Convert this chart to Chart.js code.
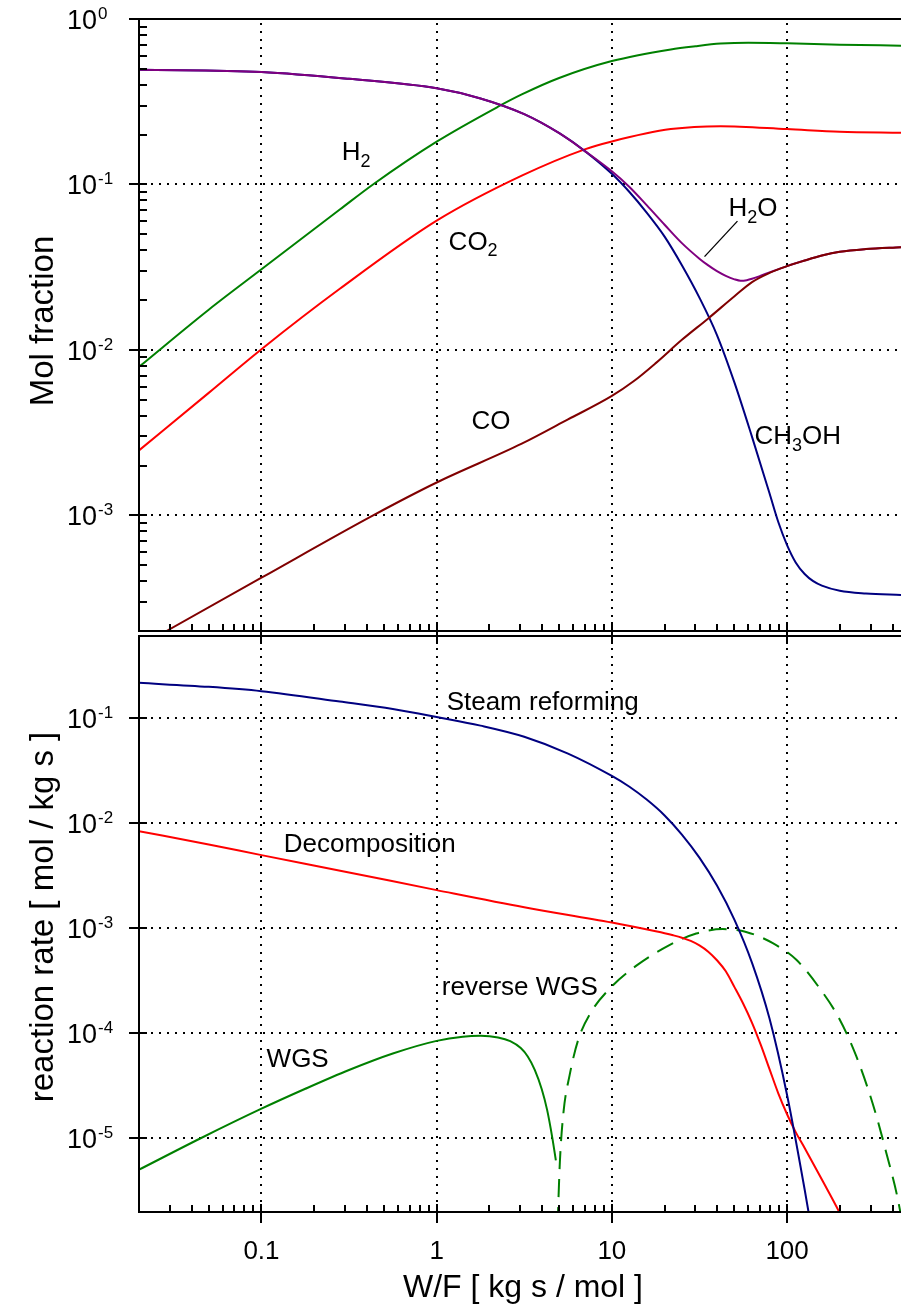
<!DOCTYPE html>
<html>
<head>
<meta charset="utf-8">
<script src="https://cdn.jsdelivr.net/npm/chart.js@4.4.0/dist/chart.umd.min.js"></script>
<style>
  body { margin: 0; background: #fff; }
  #wrap { position: relative; width: 901px; height: 1306px; overflow: hidden; }
  canvas { position: absolute; left: 0; }
</style>
</head>
<body>
<div id="wrap">
  <canvas id="molChart" width="901" height="640" style="top:0"></canvas>
  <canvas id="rateChart" width="901" height="680" style="top:626px"></canvas>
</div>
<script>
// W/F axis (shared by both panels)
var wfMin = 0.02, wfMax = 447;
var xMajors = [0.1, 1, 10, 100];
var xMajorLabels = ['0.1', '1', '10', '100'];

// upper panel: mol fractions
var molDecades = [0, -1, -2, -3];
var h2W  = [0.02, 0.05, 0.1, 0.28, 0.433, 1, 2.24, 3.06, 5, 10, 21.7, 30, 41.8, 60, 100, 200, 447];
var h2Y  = [0.0079, 0.0175, 0.0307, 0.0705, 0.1, 0.1815, 0.295, 0.35, 0.44, 0.557, 0.655, 0.685, 0.71, 0.719, 0.713, 0.70, 0.69];
var co2W = [0.02, 0.05, 0.1, 0.28, 1, 3.06, 7, 10, 21.7, 41.8, 100, 200, 447];
var co2Y = [0.00247, 0.0055, 0.0101, 0.0234, 0.0604, 0.113, 0.163, 0.182, 0.216, 0.225, 0.216, 0.208, 0.205];
var meohW = [0.02, 0.1, 0.316, 1, 1.78, 3.16, 5.01, 7.08, 10, 12.6, 15.8, 20, 25.1, 31.6, 39.8, 50.1, 63.1, 79.4, 89.1, 100, 112, 126, 141, 158, 200, 282, 447];
var meohY = [0.494, 0.479, 0.435, 0.381, 0.331, 0.266, 0.204, 0.158, 0.116, 0.090, 0.0676, 0.0484, 0.0325, 0.0207, 0.0123, 0.00634, 0.00298, 0.00136, 0.000912, 0.000661, 0.000519, 0.000442, 0.0004, 0.000376, 0.00035, 0.000337, 0.00033];
var h2oW = [0.02, 0.1, 0.316, 1, 1.78, 3.16, 5.01, 7.08, 10, 12.6, 15.8, 20, 25.1, 31.6, 35.5, 39.8, 44.7, 50.1, 54.3, 58.9, 63.1, 70.8, 79.4, 100, 126, 158, 200, 282, 447];
var h2oY = [0.494, 0.479, 0.435, 0.381, 0.331, 0.266, 0.204, 0.158, 0.120, 0.0966, 0.075, 0.0571, 0.0442, 0.0356, 0.0324, 0.0299, 0.028, 0.0267, 0.0262, 0.0264, 0.0269, 0.0281, 0.0294, 0.0321, 0.0347, 0.0372, 0.0392, 0.0407, 0.0418];
var coW  = [0.02, 0.0287, 0.1, 0.434, 1, 3.06, 5.62, 10, 13.3, 17.8, 25.1, 35.5, 50.1, 63.1, 79.4, 100, 126, 158, 200, 282, 447];
var coY  = [0.000161, 0.0002, 0.00042, 0.001, 0.00158, 0.00271, 0.0038, 0.00527, 0.00646, 0.00832, 0.0115, 0.0155, 0.0211, 0.0257, 0.0292, 0.0321, 0.0347, 0.0372, 0.0392, 0.0407, 0.0418];

// lower panel: reaction rates
var rateDecades = [-1, -2, -3, -4, -5];
var srW  = [0.02, 0.05, 0.1, 0.28, 0.562, 1, 1.78, 3.16, 5.62, 10, 12.6, 15.8, 20, 25.1, 31.6, 39.8, 50.1, 63.1, 79.4, 100, 126, 141];
var srY  = [0.215, 0.197, 0.179, 0.143, 0.1216, 0.102, 0.0843, 0.0661, 0.0457, 0.028, 0.0221, 0.0167, 0.0118, 0.00776, 0.00468, 0.00254, 0.0012, 0.000468, 0.000138, 0.0000259, 0.00000327, 0.0000011];
var decW = [0.02, 0.05, 0.1, 0.316, 1, 3.16, 10, 17.8, 20, 22.4, 25.1, 28.2, 31.6, 35.5, 39.8, 44.7, 50.1, 56.2, 63.1, 70.8, 79.4, 89.1, 100, 112, 126, 158, 200, 224];
var decY = [0.00836, 0.00625, 0.00495, 0.00339, 0.0023, 0.00158, 0.00113, 0.000933, 0.000895, 0.000855, 0.000811, 0.000757, 0.000686, 0.000598, 0.000495, 0.000389, 0.000275, 0.000191, 0.000126, 0.0000776, 0.0000457, 0.0000269, 0.000017, 0.0000115, 0.00000813, 0.00000407, 0.00000195, 0.0000013];
var wgsW = [0.02, 0.0447, 0.1, 0.178, 0.316, 0.562, 1, 1.41, 1.78, 2.24, 2.63, 3.02, 3.31, 3.63, 3.98, 4.27, 4.57, 4.79];
var wgsY = [0.00000505, 0.00001, 0.0000192, 0.0000297, 0.0000448, 0.0000643, 0.0000848, 0.0000929, 0.0000946, 0.0000913, 0.0000843, 0.0000724, 0.0000602, 0.000045, 0.0000294, 0.0000187, 0.0000102, 0.0000062];
var rwgsW = [4.9, 5.05, 5.3, 5.74, 6.4, 7.63, 9.8, 13.8, 21.3, 30.3, 43, 58.4, 82.9, 113, 153, 199, 248, 308, 367, 443, 460];
var rwgsY = [0.0000015, 0.000006, 0.000018, 0.00004, 0.000085, 0.00016, 0.00027, 0.00044, 0.00069, 0.00089, 0.00098, 0.00092, 0.00072, 0.0005, 0.00027, 0.000137, 0.000061, 0.0000215, 0.0000075, 0.000002, 0.0000013];

var FONT = '"Liberation Sans", Arial, Helvetica, sans-serif';

function pts(xs, ys) {
  return xs.map(function (x, i) { return { x: x, y: ys[i] }; });
}

function minorValues(min, max) {
  var out = [];
  for (var e = Math.floor(Math.log10(min)); e <= Math.ceil(Math.log10(max)); e++) {
    for (var m = 2; m <= 9; m++) {
      var v = m * Math.pow(10, e);
      if (v > min && v < max) out.push(v);
    }
  }
  return out;
}

function line(ctx, x1, y1, x2, y2) {
  ctx.beginPath();
  ctx.moveTo(x1, y1);
  ctx.lineTo(x2, y2);
  ctx.stroke();
}

// text with sub/superscript pieces: [['H'], ['2', 'sub'], ['O']]
function richText(ctx, parts, x, y, size) {
  var cx = x;
  parts.forEach(function (p) {
    var small = p[1] === 'sub' || p[1] === 'sup';
    ctx.font = (small ? Math.round(size * 0.68) : size) + 'px ' + FONT;
    var dy = p[1] === 'sub' ? size * 0.25 : (p[1] === 'sup' ? -size * 0.37 : 0);
    ctx.fillText(p[0], cx, y + dy);
    cx += ctx.measureText(p[0]).width;
  });
}

var frame = {
  id: 'frame',
  beforeDatasetsDraw: function (chart, args, opts) {
    var ctx = chart.ctx, a = chart.chartArea;
    var xs = chart.scales.x, ys = chart.scales.y;
    ctx.save();
    ctx.strokeStyle = '#000';
    ctx.lineWidth = 2;
    ctx.setLineDash([2, 6]);
    xMajors.forEach(function (v) {
      var px = Math.round(xs.getPixelForValue(v));
      line(ctx, px, a.top + 4, px, a.bottom);
    });
    opts.decades.forEach(function (e) {
      var py = Math.round(ys.getPixelForValue(Math.pow(10, e)));
      if (py > a.top + 2 && py < a.bottom - 2) line(ctx, a.left + 4, py, a.right, py);
    });
    ctx.restore();
  },
  afterDatasetsDraw: function (chart, args, opts) {
    var ctx = chart.ctx, a = chart.chartArea;
    var xs = chart.scales.x, ys = chart.scales.y;
    ctx.save();
    ctx.strokeStyle = '#000';
    ctx.fillStyle = '#000';
    ctx.lineWidth = 2;
    ctx.setLineDash([]);

    // frame
    line(ctx, a.left - 1, a.top, a.right, a.top);
    line(ctx, a.left, a.top, a.left, a.bottom);
    line(ctx, a.left - 1, a.bottom, a.right, a.bottom);

    // x ticks
    minorValues(wfMin, wfMax).forEach(function (v) {
      var px = Math.round(xs.getPixelForValue(v));
      line(ctx, px, a.bottom, px, a.bottom - 7);
    });
    xMajors.forEach(function (v) {
      var px = Math.round(xs.getPixelForValue(v));
      if (opts.panel === 'mol') {
        line(ctx, px, a.bottom - 9, px, a.bottom + 9);
      } else {
        line(ctx, px, a.top - 5, px, a.top + 8);
        line(ctx, px, a.bottom - 8, px, a.bottom + 11);
      }
    });

    // y ticks
    if (opts.panel === 'mol') {
      minorValues(ys.min, ys.max).forEach(function (v) {
        var py = Math.round(ys.getPixelForValue(v));
        line(ctx, a.left, py, a.left + 8, py);
      });
    }
    opts.decades.forEach(function (e) {
      var py = Math.round(ys.getPixelForValue(Math.pow(10, e)));
      line(ctx, a.left - 10, py, a.left + 8, py);
      // 10^e label
      ctx.textAlign = 'right';
      ctx.font = '27px ' + FONT;
      ctx.fillText('10', 97, py + 10);
      ctx.textAlign = 'left';
      ctx.font = '17px ' + FONT;
      ctx.fillText(String(e), 98, py + 0);
    });

    // x tick labels and title on the lower panel
    if (opts.panel === 'rate') {
      ctx.textAlign = 'center';
      ctx.font = '26px ' + FONT;
      xMajors.forEach(function (v, i) {
        ctx.fillText(xMajorLabels[i], xs.getPixelForValue(v), a.bottom + 47);
      });
      ctx.font = '32px ' + FONT;
      ctx.fillText('W/F [ kg s / mol ]', 523, a.bottom + 85);
    }

    // y title
    ctx.save();
    ctx.translate(53, (a.top + a.bottom) / 2 + opts.titleShift);
    ctx.rotate(-Math.PI / 2);
    ctx.textAlign = 'center';
    ctx.font = '33px ' + FONT;
    ctx.fillText(opts.title, 0, 0);
    ctx.restore();

    // curve labels
    ctx.textAlign = 'left';
    opts.labels.forEach(function (l) {
      richText(ctx, l.parts, xs.getPixelForValue(l.x), ys.getPixelForValue(l.y), 26);
    });
    if (opts.leader) {
      var L = opts.leader;
      ctx.lineWidth = 1.3;
      line(ctx, xs.getPixelForValue(L[0]), ys.getPixelForValue(L[1]),
                xs.getPixelForValue(L[2]), ys.getPixelForValue(L[3]));
    }
    ctx.restore();
  }
};

function ds(xs, ys, color, dash) {
  return {
    data: pts(xs, ys),
    borderColor: color,
    borderWidth: 2,
    borderDash: dash || [],
    fill: false,
    pointRadius: 0,
    cubicInterpolationMode: 'monotone',
    clip: 0
  };
}

function makeChart(id, datasets, yMin, yMax, padTop, xHeight, frameOpts) {
  return new Chart(document.getElementById(id), {
    type: 'line',
    data: { datasets: datasets },
    options: {
      responsive: false,
      animation: false,
      devicePixelRatio: 1,
      layout: { padding: { top: padTop, left: 0, right: 0, bottom: 0 }, autoPadding: false },
      plugins: { legend: { display: false }, tooltip: { enabled: false }, frame: frameOpts },
      scales: {
        x: {
          type: 'logarithmic', min: wfMin, max: wfMax,
          grid: { display: false }, border: { display: false }, ticks: { display: false },
          afterFit: function (s) { s.height = xHeight; }
        },
        y: {
          type: 'logarithmic', min: yMin, max: yMax,
          grid: { display: false }, border: { display: false }, ticks: { display: false },
          afterFit: function (s) { s.width = 139; }
        }
      }
    },
    plugins: [frame]
  });
}

// first dataset is drawn on top
makeChart('molChart', [
  ds(coW, coY, '#800000'),
  ds(h2oW, h2oY, '#800080'),
  ds(meohW, meohY, '#000080'),
  ds(h2W, h2Y, '#008000'),
  ds(co2W, co2Y, '#ff0000')
], 0.0002, 1, 19, 9, {
  panel: 'mol',
  decades: molDecades,
  title: 'Mol fraction',
  titleShift: -4,
  labels: [
    { parts: [['H'], ['2', 'sub']], x: 0.287, y: 0.140 },
    { parts: [['CO'], ['2', 'sub']], x: 1.17, y: 0.0404 },
    { parts: [['CO']], x: 1.58, y: 0.00331 },
    { parts: [['H'], ['2', 'sub'], ['O']], x: 46.3, y: 0.0643 },
    { parts: [['CH'], ['3', 'sub'], ['OH']], x: 65.2, y: 0.00269 }
  ],
  leader: [33.8, 0.0366, 52.1, 0.060]
});

makeChart('rateChart', [
  ds(srW, srY, '#000080'),
  ds(decW, decY, '#ff0000'),
  ds(wgsW, wgsY, '#008000'),
  ds(rwgsW, rwgsY, '#008000', [18, 10])
], 0.000002, 0.6, 10, 94, {
  panel: 'rate',
  decades: rateDecades,
  title: 'reaction rate [ mol / kg s ]',
  titleShift: -7,
  labels: [
    { parts: [['Steam reforming']], x: 1.14, y: 0.119 },
    { parts: [['Decomposition']], x: 0.134, y: 0.00525 },
    { parts: [['reverse WGS']], x: 1.07, y: 0.000229 },
    { parts: [['WGS']], x: 0.107, y: 0.000048 }
  ]
});
</script>
</body>
</html>
